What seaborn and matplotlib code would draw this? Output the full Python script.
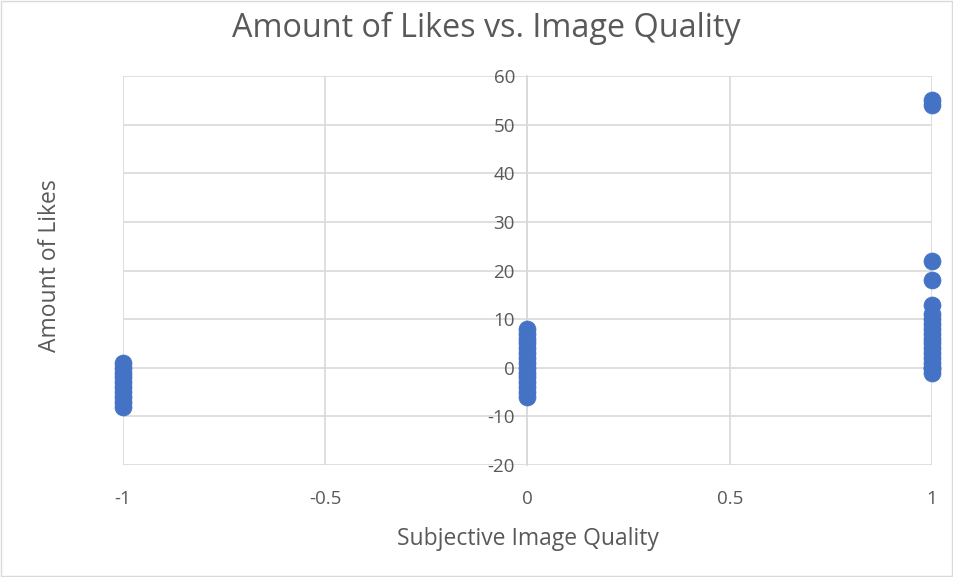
import matplotlib
matplotlib.use("Agg")
import matplotlib.pyplot as plt
import seaborn as sns
import pandas as pd

# Data
quality_neg = [-1] * 10
likes_neg = [1, 0, -1, -2, -3, -4, -5, -6, -7, -8]
quality_zero = [0] * 15
likes_zero = [8, 7, 6, 5, 4, 3, 2, 1, 0, -1, -2, -3, -4, -5, -6]
quality_pos = [1] * 19
likes_pos = [55, 54, 22, 18, 13, 11, 10, 9, 8, 7, 6, 5, 4, 3, 2, 1, 0, -1, 0]

x_ticks = [-1, -0.5, 0, 0.5, 1]
x_tick_labels = ["-1", "-0.5", "0", "0.5", "1"]
y_ticks = [-20, -10, 0, 10, 20, 30, 40, 50, 60]

df = pd.DataFrame({
    "quality": quality_neg + quality_zero + quality_pos,
    "likes": likes_neg + likes_zero + likes_pos,
})

sns.set_theme(style="white")
plt.rcParams['font.family'] = ['Open Sans', 'DejaVu Sans']
plt.rcParams['axes.unicode_minus'] = False

fig = plt.figure(figsize=(9.54, 5.77), dpi=100)
ax = fig.add_axes([123/954, 1 - 465/577, (932 - 123)/954, (465 - 76)/577])

grid_c = "#d9d9d9"
text_c = "#595959"

sns.scatterplot(data=df, x="quality", y="likes", ax=ax, s=150,
                color="#4472c4", edgecolor="#4472c4", linewidth=0.5, zorder=3,
                clip_on=False)

ax.set_xlim(-1, 1)
ax.set_ylim(-20, 60)
ax.set_xticks(x_ticks)
ax.set_xticklabels(x_tick_labels)
ax.set_yticks(y_ticks)
ax.grid(True, color=grid_c, linewidth=1.2, zorder=0)
ax.set_axisbelow(True)

for s in ["top", "right", "bottom"]:
    ax.spines[s].set_visible(False)
ax.spines["left"].set_position(("data", 0))
ax.spines["left"].set_color(grid_c)
ax.spines["left"].set_linewidth(1.2)

ax.tick_params(axis="y", direction="out", length=6, width=1.2, color=grid_c,
               labelsize=13.5, labelcolor=text_c, pad=3)
ax.tick_params(axis="x", length=0, labelsize=13.5, labelcolor=text_c, pad=18)

ax.set_xlabel("Subjective Image Quality", fontsize=16.5, color=text_c, labelpad=14)
ax.set_ylabel("")
fig.text(50/954, 1 - 266/577, "Amount of Likes", rotation=90, fontsize=16.5,
         color=text_c, ha="center", va="center")
fig.text(486/954, 1 - 28/577, "Amount of Likes vs. Image Quality", fontsize=23.3,
         color=text_c, ha="center", va="center")

fig.patches.append(plt.Rectangle((0.001, 0.002), 0.997, 0.996, transform=fig.transFigure,
                                 fill=False, edgecolor="#d9d9d9", linewidth=1))

fig.savefig("out.png", dpi=100)
